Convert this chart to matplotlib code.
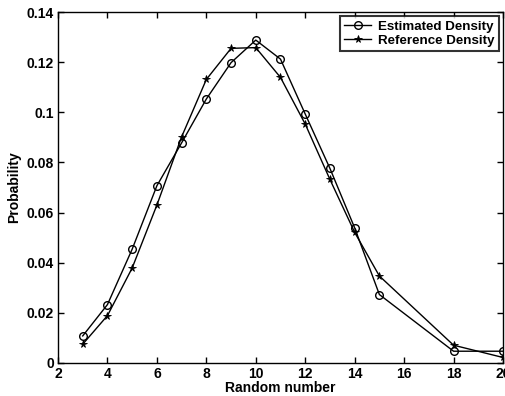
import matplotlib

matplotlib.use("Agg")

import matplotlib.pyplot as plt

# Values
random_number = [3, 4, 5, 6, 7, 8, 9, 10, 11, 12, 13, 14, 15, 18, 20]
estimated_density = [0.0108, 0.0233, 0.0454, 0.0707, 0.0878, 0.1053, 0.1198, 0.1288,
                     0.1212, 0.0993, 0.0776, 0.0539, 0.0273, 0.0047, 0.0047]
reference_density = [0.0075, 0.0189, 0.0379, 0.0630, 0.0902, 0.1131, 0.1255, 0.1258,
                     0.1139, 0.0953, 0.0732, 0.0521, 0.0347, 0.0071, 0.0022]
x_ticks = [2, 4, 6, 8, 10, 12, 14, 16, 18, 20]
y_ticks = [0, 0.02, 0.04, 0.06, 0.08, 0.1, 0.12, 0.14]
y_tick_labels = ["0", "0.02", "0.04", "0.06", "0.08", "0.1", "0.12", "0.14"]

plt.rcParams["font.family"] = ["Liberation Sans", "DejaVu Sans"]
plt.rcParams["font.weight"] = "bold"

W, H = 506, 396
fig = plt.figure(figsize=(W / 100, H / 100), dpi=100)
fig.patch.set_facecolor("white")
# axes box in pixels: x 58..503, y 12..363
ax = fig.add_axes([58 / W, 1 - 363 / H, (503 - 58) / W, (363 - 12) / H])

ax.plot(random_number, estimated_density, color="black", linewidth=1.0,
        marker="o", markersize=5.5, markerfacecolor="none", markeredgewidth=1.0,
        label="Estimated Density")
ax.plot(random_number, reference_density, color="black", linewidth=1.0,
        marker="*", markersize=5.5, markerfacecolor="black", markeredgewidth=0.6,
        label="Reference Density")

ax.set_xlim(2, 20)
ax.set_ylim(0, 0.14)
ax.set_xticks(x_ticks)
ax.set_yticks(y_ticks)
ax.set_yticklabels(y_tick_labels)
ax.tick_params(direction="in", top=True, right=True, length=4, width=1.0,
               labelsize=10, pad=3)
for label in ax.get_xticklabels() + ax.get_yticklabels():
    label.set_fontweight("bold")
for spine in ax.spines.values():
    spine.set_linewidth(1.0)

ax.set_xlabel("Random number", fontsize=10, fontweight="bold", labelpad=0)
ax.set_ylabel("Probability", fontsize=10, fontweight="bold", labelpad=4)

leg = ax.legend(loc="upper right", fontsize=9.6, frameon=True, fancybox=False,
                borderpad=0.35, handlelength=2.0, handletextpad=0.5,
                labelspacing=0.1, borderaxespad=0.3)
leg.get_frame().set_edgecolor("black")
leg.get_frame().set_linewidth(1.5)
for text in leg.get_texts():
    text.set_fontweight("bold")

fig.savefig("out.png", dpi=100)
